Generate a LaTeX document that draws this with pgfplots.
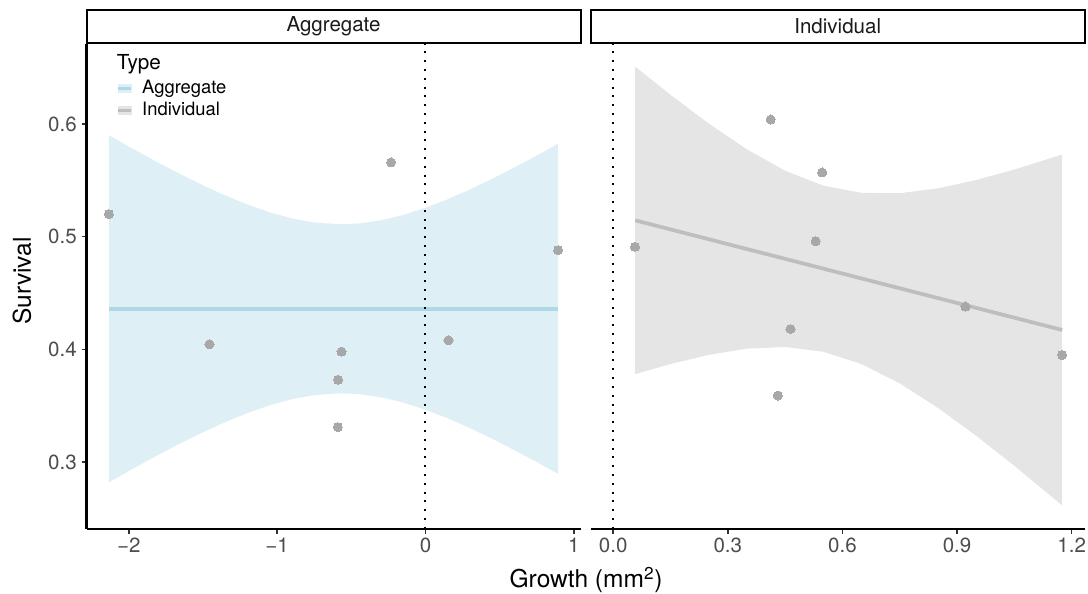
\documentclass[border=0pt]{standalone}
\usepackage{pgfplots}
\pgfplotsset{compat=1.18}
\usepackage{pgfplotstable}
\usepgfplotslibrary{fillbetween}
\usepackage{fontspec}
\setmainfont{TeX Gyre Heros}
\definecolor{aggfill}{HTML}{DEEFF5}
\definecolor{aggline}{HTML}{ADD8E6}
\definecolor{indfill}{HTML}{E5E5E5}
\definecolor{indline}{HTML}{BEBEBE}
\definecolor{ptcol}{HTML}{A8A8A8}
\definecolor{tickcol}{HTML}{4D4D4D}
\definecolor{stripcol}{HTML}{1A1A1A}

% Aggregate confidence band
\pgfplotstableread{
x u l
-2.134 0.5900 0.2820
-2.0 0.5800 0.2920
-1.8 0.5656 0.3064
-1.65 0.5554 0.3167
-1.5 0.5456 0.3264
-1.35 0.5366 0.3354
-1.2 0.5285 0.3435
-1.05 0.5216 0.3504
-0.9 0.5162 0.3558
-0.75 0.5126 0.3594
-0.57 0.5110 0.3610
-0.45 0.5117 0.3603
-0.3 0.5145 0.3575
-0.15 0.5192 0.3528
0 0.5256 0.3464
0.15 0.5332 0.3388
0.3 0.5419 0.3301
0.45 0.5514 0.3206
0.6 0.5615 0.3105
0.75 0.5720 0.3000
0.894 0.5825 0.2895
}\aggband
% Individual confidence band
\pgfplotstableread{
x u l
0.0576 0.6510 0.3780
0.15 0.6259 0.3870
0.25 0.6004 0.3951
0.35 0.5775 0.4006
0.45 0.5585 0.4021
0.55 0.5453 0.3979
0.65 0.5389 0.3869
0.75 0.5386 0.3698
0.85 0.5429 0.3480
0.95 0.5503 0.3233
1.05 0.5596 0.2966
1.175 0.5729 0.2615
}\indband
\pgfplotstableread{
x y
-2.134 0.520
-0.232 0.566
0.894 0.488
-1.456 0.4045
-0.566 0.398
-0.589 0.373
-0.591 0.331
0.155 0.408
}\aggpts
\pgfplotstableread{
x y
0.412 0.604
0.547 0.557
0.530 0.496
0.057 0.491
0.922 0.438
0.464 0.418
1.175 0.395
0.431 0.359
}\indpts

\pgfplotsset{
  panel/.style={
    scale only axis, anchor=south west,
    width=370.5pt, height=363.75pt,
    ymin=0.2408, ymax=0.6713,
    axis x line*=bottom,
    axis line style={-, line width=1.6pt, black},
    tick align=outside,
    major tick length=3.75pt,
    every tick/.style={line width=1.1pt, black!80},
    tick label style={font=\fontsize{15.4}{18}\selectfont, text=tickcol},
    every axis title shift=0pt,
    title style={at={(0.5,1)}, anchor=south, yshift=0pt, draw=black, line width=1.5pt,
      fill=white, minimum width=370.5pt, minimum height=24.3pt, inner sep=0pt,
      font=\fontsize{15.4}{18}\selectfont, text=stripcol},
  },
}

\begin{document}
\begin{tikzpicture}
\begin{axis}[panel,
  at={(64.875pt,48.225pt)},
  xmin=-2.285, xmax=1.045,
  axis y line*=left,
  xtick={-2,-1,0,1}, xticklabels={−2,−1,0,1},
  ytick={0.3,0.4,0.5,0.6}, yticklabels={0.3,0.4,0.5,0.6},
  title={Aggregate},
  ylabel={Survival},
  ylabel style={at={(axis description cs:-0.1306,0.5107)}, anchor=center, font=\fontsize{18.4}{22}\selectfont, text=black},
  legend style={at={(axis description cs:0.0611,0.9266)}, anchor=north west, draw=none, fill=none,
    inner sep=0pt, row sep=2.8pt, font=\fontsize{13.8}{16}\selectfont,
    nodes={inner sep=0pt, text height=10.5pt, text depth=3pt},
    /tikz/every odd column/.append style={column sep=7pt}},
  legend cell align=left,
]
\addplot[name path=aggU, draw=none, forget plot] table[x=x, y=u] {\aggband};
\addplot[name path=aggL, draw=none, forget plot] table[x=x, y=l] {\aggband};
\addplot[fill=aggfill, draw=none, forget plot] fill between[of=aggU and aggL];
\addplot[aggline, line width=2.8pt, forget plot] coordinates {(-2.134,0.436) (0.894,0.436)};
\addplot[black, line width=1.5pt, dash pattern=on 1.5pt off 5.1pt, forget plot] coordinates {(0,0.2408) (0,0.6713)};
\addplot[only marks, mark=*, mark size=3.4pt, color=ptcol, mark options={draw=ptcol, fill=ptcol, line width=0pt}, forget plot] table[x=x, y=y] {\aggpts};
\addlegendimage{legend image code/.code={\fill[aggfill] (0pt,-3pt) rectangle (9.75pt,3pt); \draw[aggline, line width=2.2pt] (0pt,0pt) -- (9.75pt,0pt);}}
\addlegendentry{Aggregate}
\addlegendimage{legend image code/.code={\fill[indfill] (0pt,-3pt) rectangle (9.75pt,3pt); \draw[indline, line width=2.2pt] (0pt,0pt) -- (9.75pt,0pt);}}
\addlegendentry{Individual}
\node[anchor=base west, inner sep=0pt, font=\fontsize{15.5}{18}\selectfont] at (rel axis cs:0.0611,0.9458) {Type};
\end{axis}

\begin{axis}[panel,
  at={(443.025pt,48.225pt)},
  xmin=-0.0588, xmax=1.234,
  axis y line=none,
  xtick={0,0.3,0.6,0.9,1.2}, xticklabels={0.0,0.3,0.6,0.9,1.2},
  title={Individual},
]
\addplot[name path=indU, draw=none] table[x=x, y=u] {\indband};
\addplot[name path=indL, draw=none] table[x=x, y=l] {\indband};
\addplot[fill=indfill, draw=none] fill between[of=indU and indL];
\addplot[indline, line width=2.8pt] coordinates {(0.0576,0.5145) (1.175,0.4172)};
\addplot[black, line width=1.5pt, dash pattern=on 1.5pt off 5.1pt] coordinates {(0,0.2408) (0,0.6713)};
\addplot[only marks, mark=*, mark size=3.4pt, color=ptcol, mark options={draw=ptcol, fill=ptcol, line width=0pt}] table[x=x, y=y] {\indpts};
\end{axis}

\node[anchor=base, inner sep=0pt, font=\fontsize{18.4}{22}\selectfont] at (439.5pt,4.05pt) {Growth (mm\textsuperscript{2})};
\pgfresetboundingbox
\path (0pt,0pt) rectangle (816pt,444.75pt);
\end{tikzpicture}
\end{document}
